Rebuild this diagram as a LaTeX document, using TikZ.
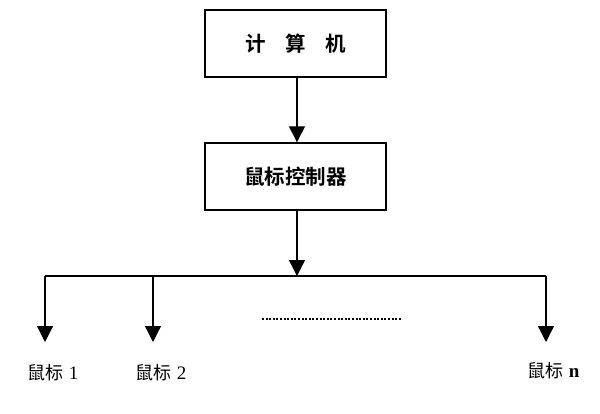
\documentclass[tikz,border=0pt]{standalone}
\usepackage{fontspec}
\setmainfont{Liberation Serif}
\newfontfamily\cjk{Noto Sans CJK SC}
\newfontfamily\cjkb{Noto Sans CJK SC Bold}
\usetikzlibrary{arrows.meta}
\begin{document}
\begin{tikzpicture}[x=1pt,y=-1pt,
  boxst/.style={draw,line width=1.4pt,minimum width=181pt,minimum height=67pt,inner sep=0pt,font=\cjkb\fontsize{20.5}{20.5}\selectfont},
  lab/.style={inner sep=0pt,font=\fontsize{19}{19}\selectfont},
  conn/.style={line width=1.3pt,-{Triangle[width=16pt,length=16pt]}},
  bus/.style={line width=1.3pt}]
\useasboundingbox (0,0) rectangle (600,413);
\node[boxst] (pc) at (295.5,43.5) {计\hspace{0.95em}算\hspace{0.95em}机};
\node[boxst] (ctl) at (295.5,176.5) {鼠标控制器};
\coordinate (j) at (297,276);
\coordinate (bl) at (45,276);
\coordinate (b2) at (153,276);
\coordinate (br) at (546,276);
\coordinate (e1) at (45,342);
\coordinate (e2) at (153,342);
\coordinate (en) at (546,342);
\draw[conn] (pc.south -| j) -- (ctl.north -| j);
\draw[conn] (ctl.south -| j) -- (j);
\draw[bus] (bl) -- (br);
\draw[conn] (bl) -- (e1);
\draw[conn] (b2) -- (e2);
\draw[conn] (br) -- (en);
\coordinate (d1) at (262,319);
\coordinate (d2) at (402,319);
\draw[line width=1.6pt,dash pattern=on 2pt off 1.6pt] (d1) -- (d2);
\node[lab,anchor=west] (m1) at (27,373) {{\cjk\fontsize{18}{18}\selectfont 鼠标}\hspace{0.3em}1};
\node[lab,anchor=west] (m2) at (135,373) {{\cjk\fontsize{18}{18}\selectfont 鼠标}\hspace{0.3em}2};
\node[lab,anchor=west] (mn) at (527,371) {{\cjk\fontsize{18}{18}\selectfont 鼠标}\hspace{0.3em}\textbf{n}};
\end{tikzpicture}
\end{document}
